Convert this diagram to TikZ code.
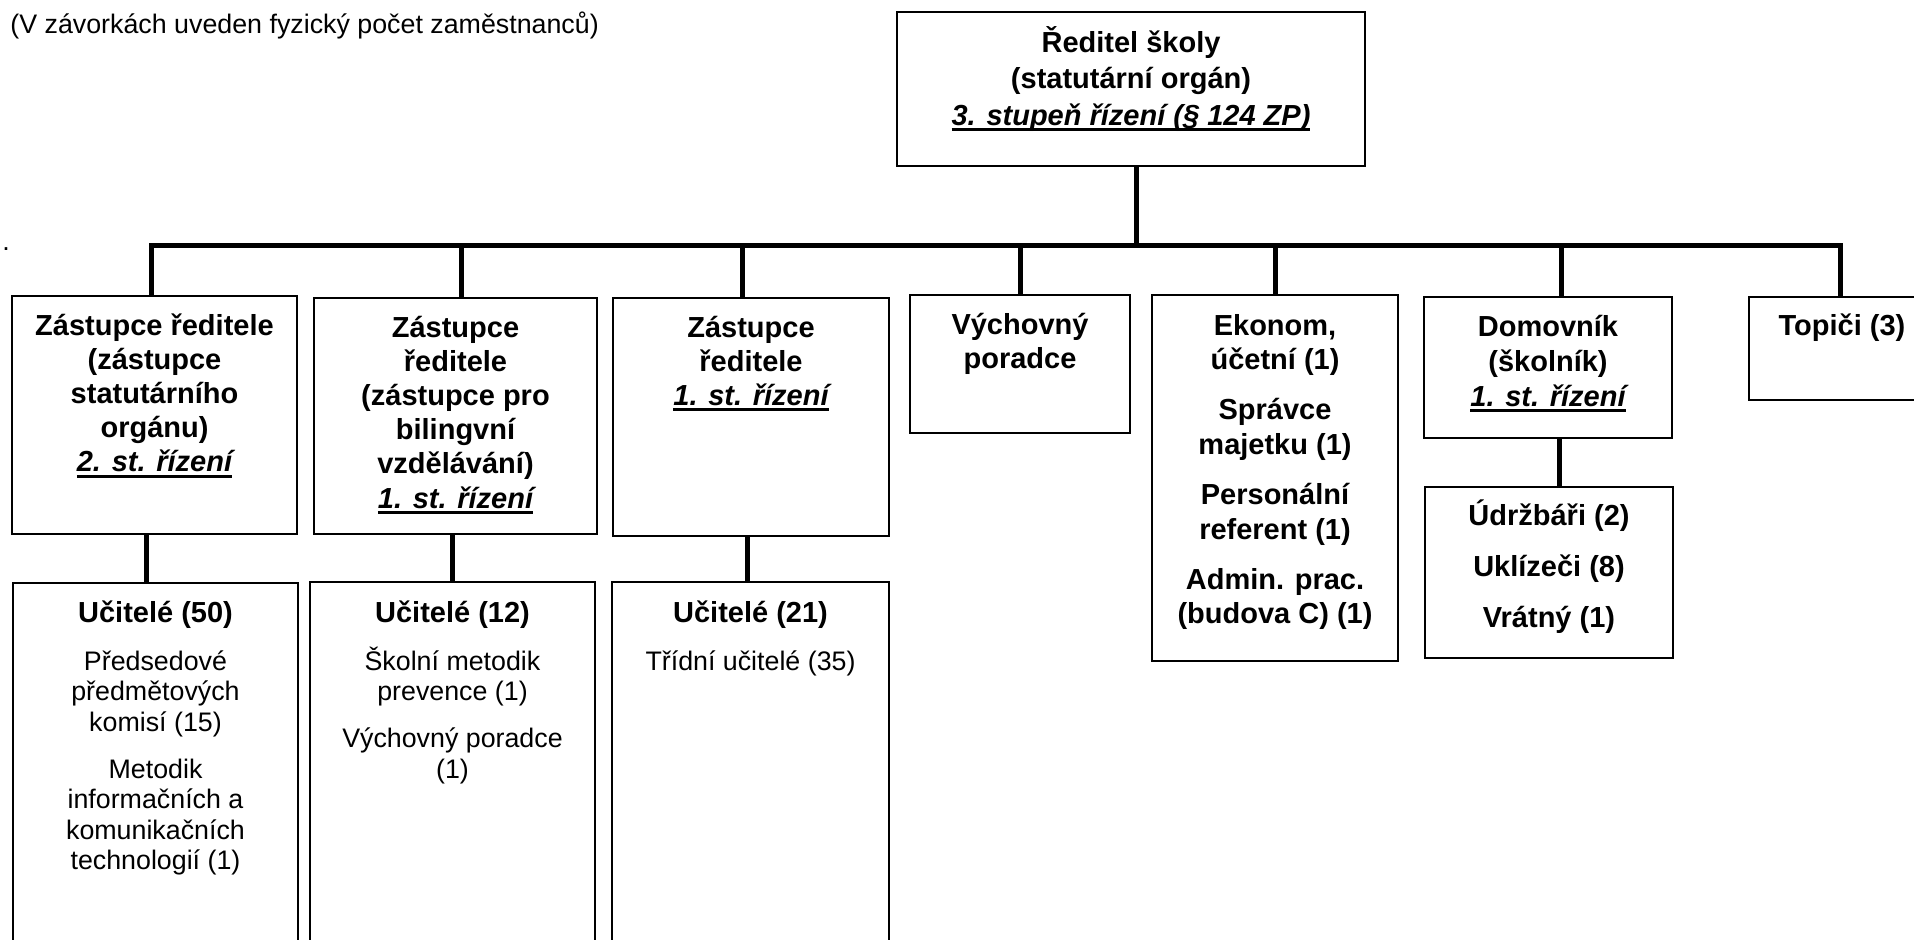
\documentclass[tikz,border=0pt]{standalone}
\usepackage{fontspec}
\setmainfont{Liberation Sans}
\usetikzlibrary{fit}
\newcommand\myul[1]{\leavevmode\setbox0\hbox{#1}\rlap{\rule[-3pt]{\wd0}{1.5pt}}\box0}
\newcommand\bfs{\fontsize{14.5}{17.1}\selectfont\bfseries}
\newcommand\rgs{\fontsize{13.4}{15.25}\selectfont\mdseries}
\newcommand\pb[2]{\parbox[t]{#1}{\centering #2}}
\begin{document}
\begin{tikzpicture}[x=0.5pt,y=-0.5pt,
  box/.style={draw, line width=1.2pt, inner sep=0pt},
  conn/.style={line width=2.5pt},
  lbl/.style={anchor=base, inner sep=0pt},
]
\clip (0,0) rectangle (1914,939);
\fill[white] (0,0) rectangle (1914,939);

% note
\node[anchor=base west, inner sep=0pt] (note) at (10,33) {\rgs (V závorkách uveden fyzický počet zaměstnanců)};
\node[lbl] (dot) at (6,250) {\rgs .};

% boxes
\node[box, fit={(897,12) (1365,166)}] (top) {};
\node[box, fit={(12,296) (297,534)}] (b1) {};
\node[box, fit={(314,298) (597,534)}] (b2) {};
\node[box, fit={(613,298) (889,536)}] (b3) {};
\node[box, fit={(910,295) (1130,433)}] (b4) {};
\node[box, fit={(1152,295) (1398,661)}] (b5) {};
\node[box, fit={(1424,297) (1672,438)}] (b6) {};
\node[box, fit={(1749,297) (1936,400)}] (b7) {};
\node[box, fit={(1425,487) (1673,658)}] (b6b) {};
\node[box, fit={(13,583) (298,960)}] (l1) {};
\node[box, fit={(310,582) (595,960)}] (l2) {};
\node[box, fit={(612,582) (889,960)}] (l3) {};

% texts
\node[lbl] (topt) at (1131,52) {\pb{230pt}{\fontsize{14.5}{18.25}\selectfont\bfseries Ředitel školy\\(statutární orgán)\\\myul{\itshape 3. stupeň řízení (§ 124 ZP)}}};
\node[lbl] (b1t) at (154.5,335) {\pb{140pt}{\bfs Zástupce ředitele\\(zástupce\\statutárního\\orgánu)\\\myul{\itshape 2. st. řízení}}};
\node[lbl] (b2t) at (455.5,337) {\pb{140pt}{\bfs Zástupce\\ředitele\\(zástupce pro\\bilingvní\\vzdělávání)\\\myul{\itshape 1. st. řízení}}};
\node[lbl] (b3t) at (751,337) {\pb{136pt}{\bfs Zástupce\\ředitele\\\myul{\itshape 1. st. řízení}}};
\node[lbl] (b4t) at (1020,334) {\pb{108pt}{\bfs Výchovný\\poradce}};
\node[lbl] (b5t) at (1275,335) {\pb{122pt}{\bfs Ekonom,\\účetní (1)\\[8.25pt]Správce\\majetku (1)\\[8.25pt]Personální\\referent (1)\\[8.25pt]Admin. prac.\\(budova C) (1)}};
\node[lbl] (b6t) at (1548,336) {\pb{122pt}{\fontsize{14.5}{17.6}\selectfont\bfseries Domovník\\(školník)\\\myul{\itshape 1. st. řízení}}};
\node[lbl] (b6bt) at (1549,525) {\pb{122pt}{\bfs Údržbáři (2)\\[8.4pt]Uklízeči (8)\\[8.4pt]Vrátný (1)}};
\node[lbl] (b7t) at (1842,335) {\pb{90pt}{\bfs Topiči (3)}};
\node[lbl] (l1t) at (155.5,622) {\pb{140pt}{\bfs Učitelé (50)\par\vspace{8.75pt}\rgs Předsedové\\předmětových\\komisí (15)\\[8.25pt]Metodik\\informačních a\\komunikačních\\technologií (1)}};
\node[lbl] (l2t) at (452.5,622) {\pb{140pt}{\bfs Učitelé (12)\par\vspace{8.75pt}\rgs Školní metodik\\prevence (1)\\[8.25pt]Výchovný poradce\\(1)}};
\node[lbl] (l3t) at (750.5,622) {\pb{136pt}{\bfs Učitelé (21)\par\vspace{8.75pt}\rgs Třídní učitelé (35)}};

% connectors
\coordinate (tv) at (1136,245);
\coordinate (d1) at (151,245);
\coordinate (d2) at (461,245);
\coordinate (d3) at (742,245);
\coordinate (d4) at (1020,245);
\coordinate (d5) at (1275,245);
\coordinate (d6) at (1561,245);
\coordinate (d7) at (1840,245);
\draw[conn] (tv |- top.south) -- (tv);
\draw[conn] (d1 |- b1.north) -- (d1) -- (d7) -- (d7 |- b7.north);
\foreach \d/\b in {d2/b2,d3/b3,d4/b4,d5/b5,d6/b6}
  \draw[conn] (\d) -- (\d |- \b.north);
\coordinate (c1) at (146,0);
\coordinate (c2) at (452,0);
\coordinate (c3) at (747,0);
\coordinate (c6) at (1559,0);
\draw[conn] (c1 |- b1.south) -- (c1 |- l1.north);
\draw[conn] (c2 |- b2.south) -- (c2 |- l2.north);
\draw[conn] (c3 |- b3.south) -- (c3 |- l3.north);
\draw[conn] (c6 |- b6.south) -- (c6 |- b6b.north);
\end{tikzpicture}
\end{document}
